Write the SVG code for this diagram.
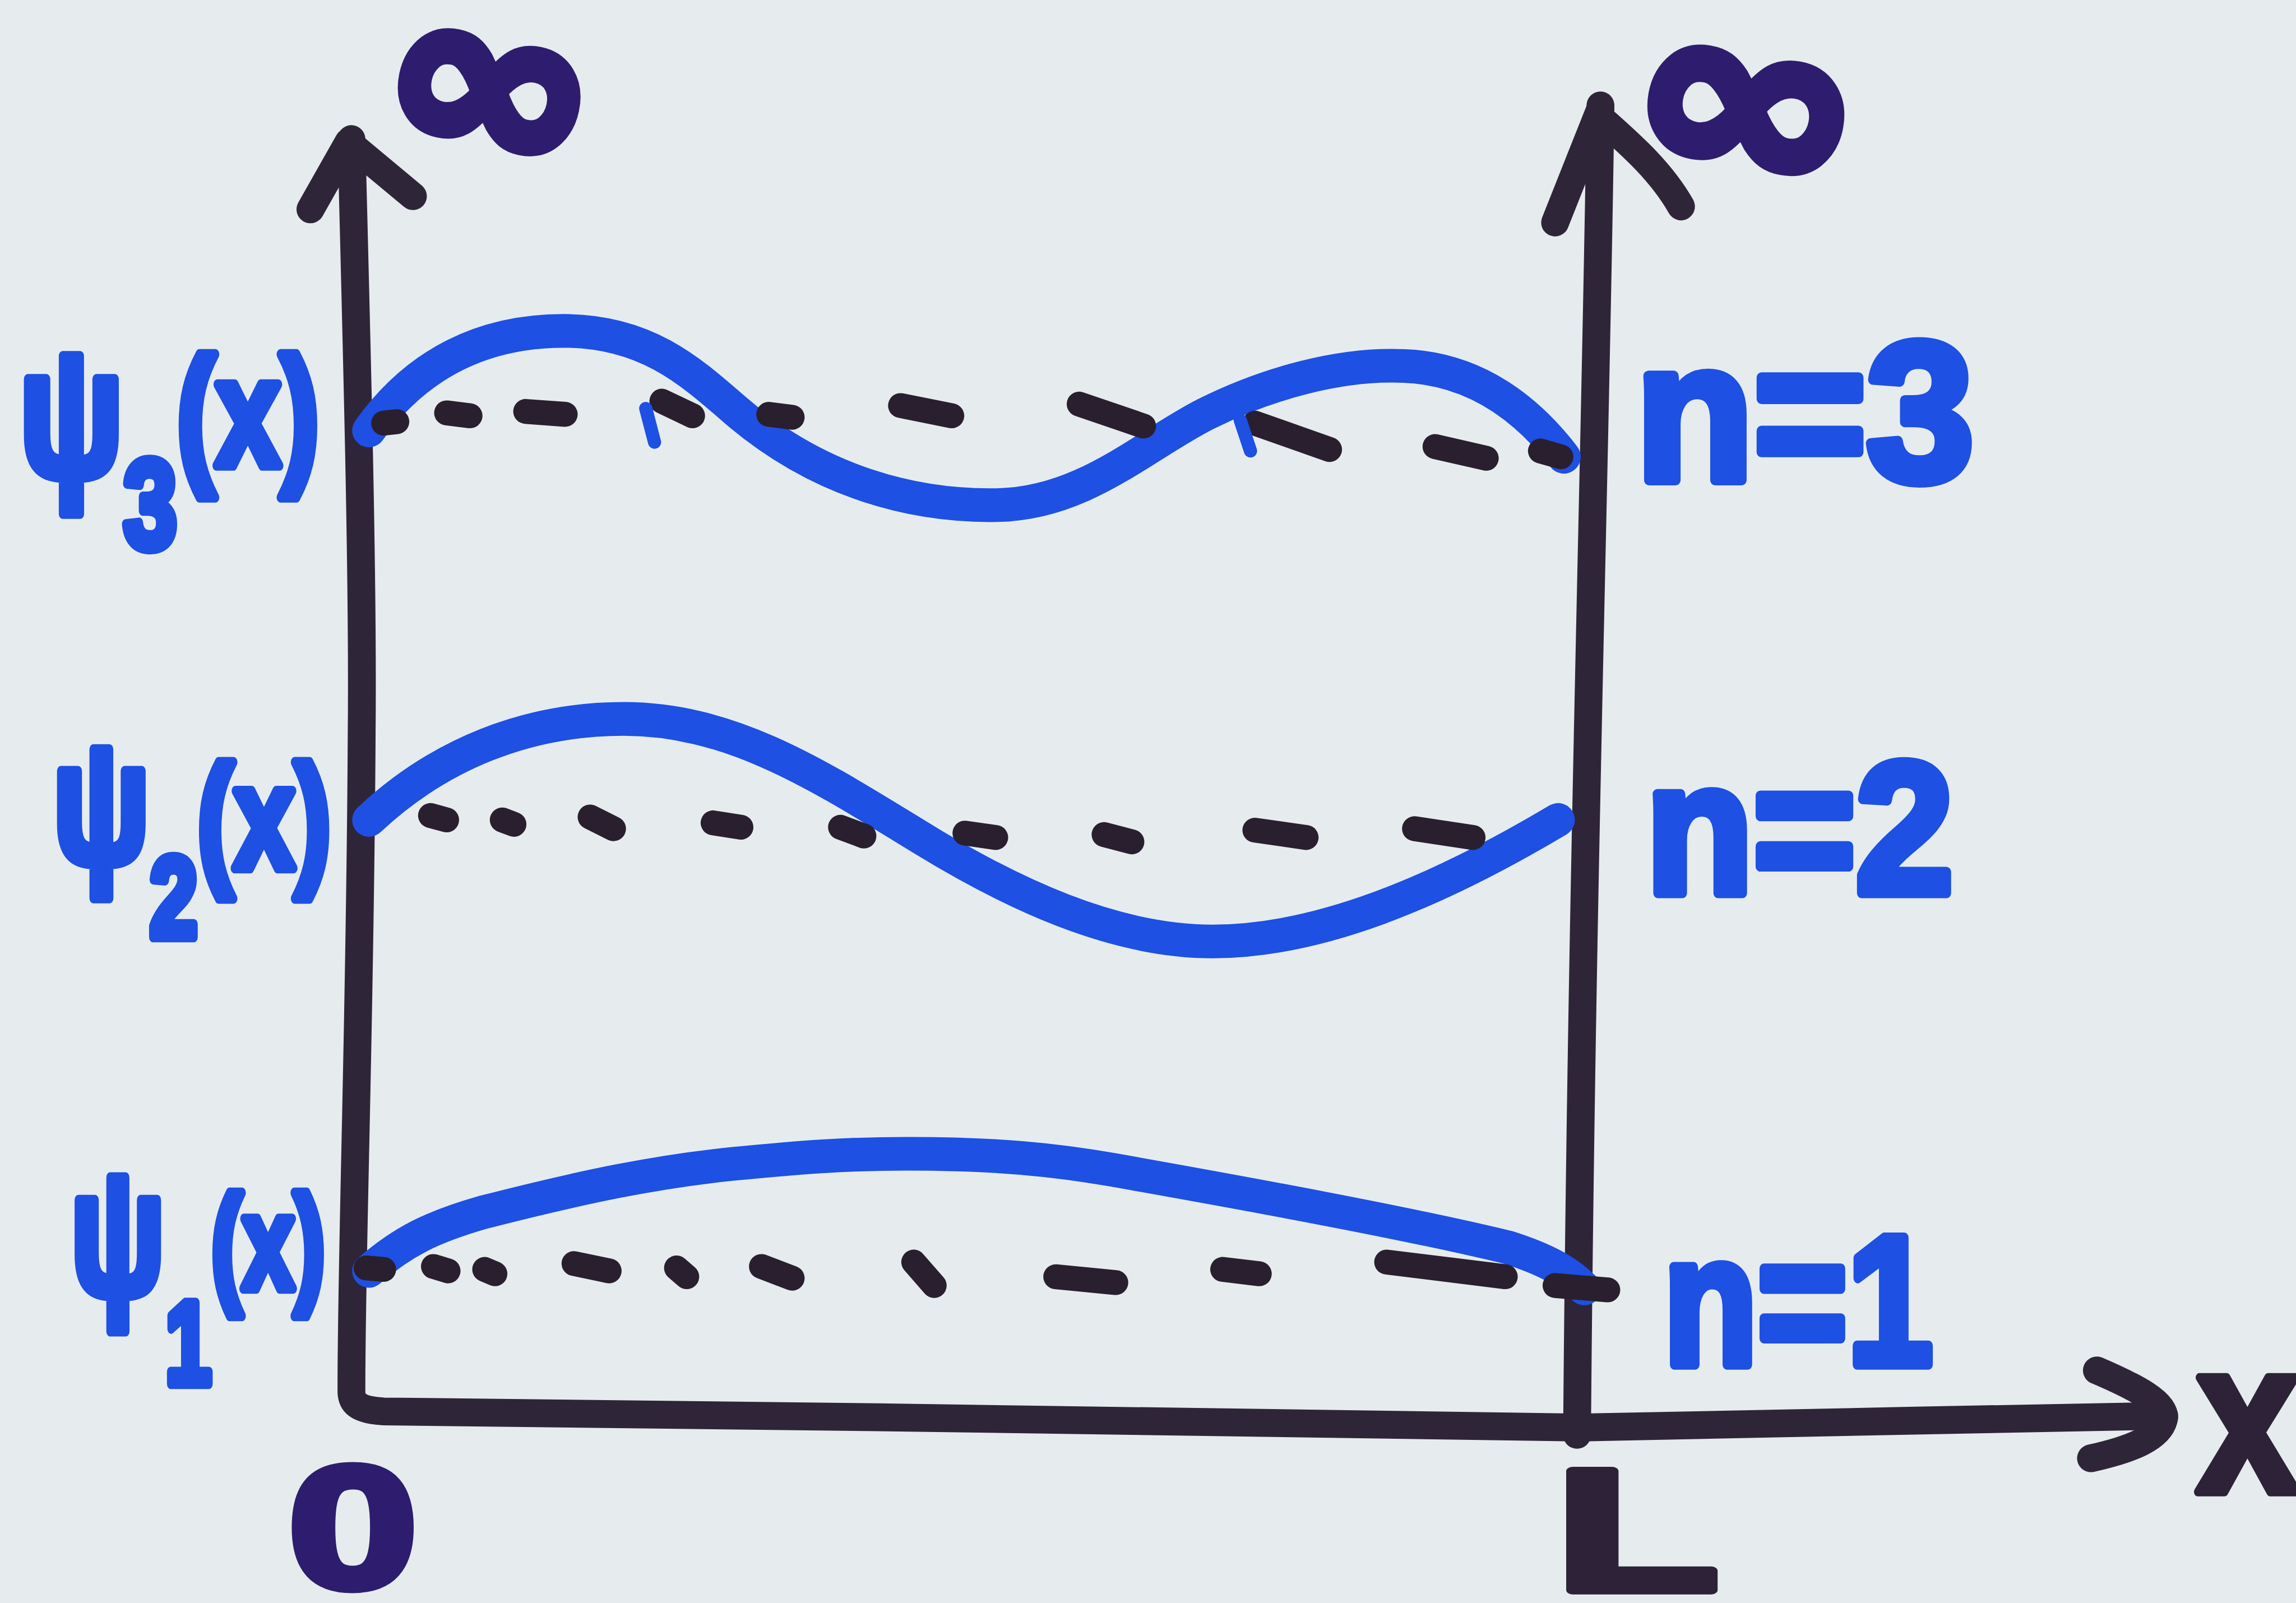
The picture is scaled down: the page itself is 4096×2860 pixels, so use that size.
<svg xmlns="http://www.w3.org/2000/svg" width="4096" height="2860" viewBox="0 0 4096 2860">
<style>
.ink{fill:none;stroke:#2f2538;stroke-width:19;stroke-linecap:round;stroke-linejoin:round}
.wave{fill:none;stroke:#1d50e3;stroke-width:23;stroke-linecap:round;stroke-linejoin:round}
.dash{fill:none;stroke:#2a1f2e;stroke-width:17;stroke-linecap:round}
.tick{fill:none;stroke:#1d50e3;stroke-width:9;stroke-linecap:round}
.lbl{fill:#1d50e3;stroke:#1d50e3;stroke-width:7;stroke-linejoin:round;font-family:"Liberation Sans",Arial,sans-serif;font-weight:bold}
.dk{fill:#2d2238;stroke:#2d2238;stroke-width:6;stroke-linejoin:round;font-family:"Liberation Sans",Arial,sans-serif;font-weight:bold}
.pur{fill:#2e1d6e;stroke:#2e1d6e;stroke-width:9;stroke-linejoin:round;font-family:"DejaVu Sans","Liberation Sans",sans-serif;font-weight:bold}
</style>
<rect width="4096" height="2860" fill="#e6ecee"/>
<g transform="scale(2.61224)">
<g id="connectors">
<path class="ink" d="M240,95 C244,250 248,400 247,500 C246,700 240,850 240,950 C240,958 244,963 262,964 C350,966 450,967 600,968 C800,970 1000,973 1080,975 C1200,973 1350,969 1478,967"/>
<path class="ink" d="M212,143 L238,97 M240,99 L282,134"/>
<path class="ink" d="M1093,72 C1090,300 1080,600 1077,980"/>
<path class="ink" d="M1062,152 L1093,74 M1097,84 C1115,100 1135,118 1148,141"/>
<path class="ink" d="M1432,936 C1460,948 1478,958 1478,968 C1476,982 1455,990 1428,996"/>
</g>
<g id="level-n3">
<path class="wave" d="M252,294 C285,248 330,226 385,226 C440,226 470,252 502,280 C560,330 625,346 681,345 C740,344 780,305 823,283 C865,262 915,248 959,250 C1010,252 1045,282 1068,312"/>
<path class="dash" d="M262,289 L271,288 M305,282 L321,284 M359,281 L386,283 M452,274 L473,284 M525,283 L541,285 M615,277 L650,284 M737,276 L781,291 M857,289 L908,307 M980,305 L1015,313 M1052,308 L1066,312"/>
<path class="tick" d="M441,279 L447,302 M847,287 L854,308"/>
</g>
<g id="level-n2">
<path class="wave" d="M252,560 C300,515 360,491 426,491 C500,491 560,530 627,571 C690,610 760,643 828,643 C900,643 980,610 1064,560"/>
<path class="dash" d="M294,557 L305,560 M343,560 L351,563 M403,558 L419,566 M487,562 L506,565 M574,565 L590,571 M659,569 L680,572 M754,570 L773,575 M857,567 L892,572 M966,566 L1006,572"/>
</g>
<g id="level-n1">
<path class="wave" d="M252,868 C275,848 295,838 330,828 C400,810 450,800 500,795 C550,790 580,788 620,788 C680,788 720,792 760,799 C850,815 960,835 1030,852 C1055,860 1070,868 1082,880"/>
<path class="dash" d="M250,866 L262,867 M296,865 L306,868 M331,867 L338,870 M392,863 L416,868 M462,866 L469,872 M520,865 L541,873 M624,862 L638,878 M721,872 L762,876 M835,867 L860,870 M947,862 L1028,872 M1062,878 L1098,881"/>
</g>
<g id="label-psi3">
<text class="lbl" x="13" textLength="205" lengthAdjust="spacingAndGlyphs"><tspan y="325" font-size="125">ψ</tspan><tspan y="374" font-size="86">3</tspan><tspan y="318" font-size="105">(x)</tspan></text>
</g>
<g id="label-psi2">
<text class="lbl" x="36" textLength="190" lengthAdjust="spacingAndGlyphs"><tspan y="589" font-size="118">ψ</tspan><tspan y="640" font-size="78">2</tspan><tspan y="593" font-size="100">(x)</tspan></text>
</g>
<g id="label-psi1">
<text class="lbl" x="48" textLength="174" lengthAdjust="spacingAndGlyphs"><tspan y="884" font-size="122">ψ</tspan><tspan y="945" font-size="80">1</tspan><tspan y="880" font-size="90">(x)</tspan></text>
</g>
<g id="label-n3">
<text class="lbl" x="1117" y="328" font-size="135" textLength="231" lengthAdjust="spacingAndGlyphs">n=3</text>
</g>
<g id="label-n2">
<text class="lbl" x="1124" y="610" font-size="128" textLength="210" lengthAdjust="spacingAndGlyphs">n=2</text>
</g>
<g id="label-n1">
<text class="lbl" x="1136" y="932" font-size="126" textLength="184" lengthAdjust="spacingAndGlyphs">n=1</text>
</g>
<g id="label-inf-left">
<text class="pur" x="262" y="111" font-size="160" textLength="148" lengthAdjust="spacingAndGlyphs" transform="rotate(12 337 54)">∞</text>
</g>
<g id="label-inf-right">
<text class="pur" x="1114" y="126" font-size="168" textLength="160" lengthAdjust="spacingAndGlyphs" transform="rotate(10 1197 66)">∞</text>
</g>
<g id="label-zero">
<text class="pur" x="197" y="1084" font-size="118" textLength="88" lengthAdjust="spacingAndGlyphs" style="font-family:'Liberation Sans',Arial,sans-serif;stroke-width:6">0</text>
</g>
<g id="label-L">
<text class="dk" x="1062" y="1086" font-size="118" textLength="112" lengthAdjust="spacingAndGlyphs">L</text>
</g>
<g id="label-x">
<text class="dk" x="1500" y="1019" font-size="148" textLength="70" lengthAdjust="spacingAndGlyphs">x</text>
</g>
</g>
</svg>
